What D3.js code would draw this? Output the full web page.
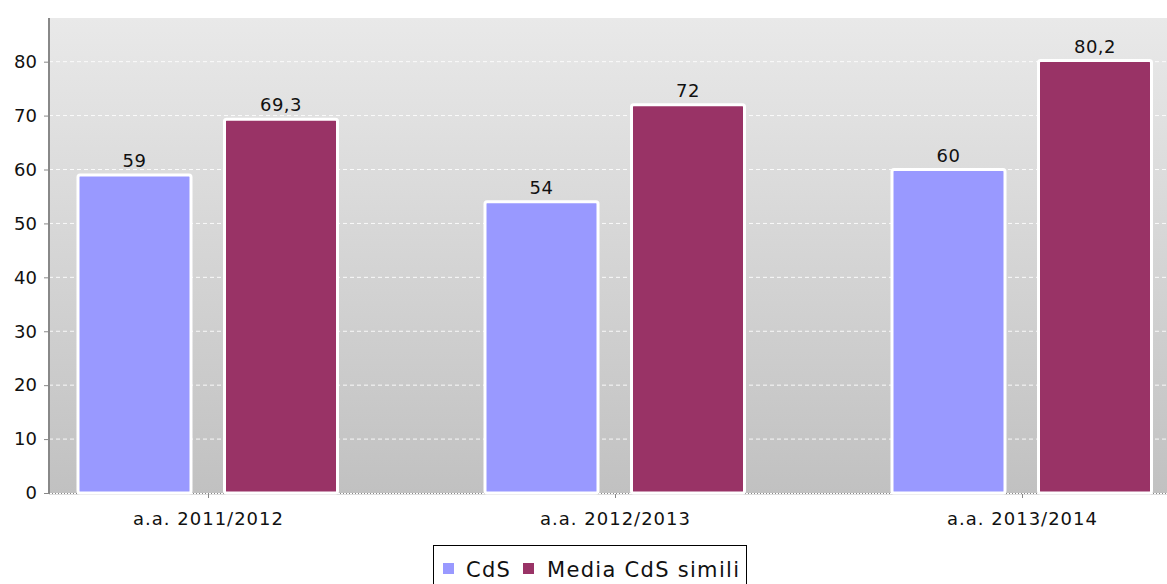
<!DOCTYPE html>
<html><head><meta charset="utf-8">
<script src="https://cdn.jsdelivr.net/npm/d3@7"></script>
<style>body{margin:0;background:#fff;font-family:"DejaVu Sans",sans-serif;}</style>
</head><body><svg id="c" width="1167" height="584"></svg>
<script>
const categories = ["a.a. 2011/2012", "a.a. 2012/2013", "a.a. 2013/2014"];
const seriesNames = ["CdS", "Media CdS simili"];
const cdsValues = [59, 54, 60];
const mediaValues = [69.3, 72, 80.2];
const yTicks = [0, 10, 20, 30, 40, 50, 60, 70, 80];
const colors = ["#9999ff", "#993366"];

const svg = d3.select("#c");
const pLeft = 49, pRight = 1167, pTop = 18, pBottom = 493;
const y = d3.scaleLinear().domain([0, 88.1]).range([pBottom, pTop]);
const x = d3.scalePoint().domain(categories).range([208, 1022]);
const fmt = v => String(v).replace(".", ",");

const defs = svg.append("defs");
const g = defs.append("linearGradient").attr("id","bg").attr("x1",0).attr("y1",0).attr("x2",0).attr("y2",1);
g.append("stop").attr("offset","0%").attr("stop-color","#e9e9e9");
g.append("stop").attr("offset","100%").attr("stop-color","#c1c1c1");

svg.append("rect").attr("x",pLeft).attr("y",pTop).attr("width",pRight-pLeft).attr("height",pBottom-pTop).attr("fill","url(#bg)");

// grid
svg.append("g").selectAll("line").data(yTicks.filter(d=>d>0)).join("line")
  .attr("x1",pLeft).attr("x2",pRight).attr("y1",d=>y(d)).attr("y2",d=>y(d))
  .attr("stroke","#fff").attr("stroke-width",1).attr("stroke-dasharray","4,3").attr("opacity",0.9);
svg.append("line").attr("x1",pLeft).attr("x2",pRight).attr("y1",pBottom+0.5).attr("y2",pBottom+0.5)
  .attr("stroke","#888").attr("stroke-dasharray","1,2");
svg.append("line").attr("x1",pLeft).attr("x2",pRight).attr("y1",pBottom+1.5).attr("y2",pBottom+1.5)
  .attr("stroke","#ddd");

// bars
const offsets = [-73.5, 73];
const bw = 113;
[cdsValues, mediaValues].forEach((vals, si) => {
  const gg = svg.append("g");
  gg.selectAll("rect").data(vals).join("rect")
    .attr("x",(d,i)=>x(categories[i])+offsets[si]-bw/2)
    .attr("y",d=>y(d))
    .attr("width",bw).attr("height",d=>pBottom-y(d))
    .attr("fill",colors[si]).attr("stroke","#fff").attr("stroke-width",3).attr("rx",2);
  gg.selectAll("text").data(vals).join("text")
    .attr("x",(d,i)=>x(categories[i])+offsets[si])
    .attr("y",d=>y(d)-8)
    .attr("text-anchor","middle").attr("font-size",18).attr("letter-spacing","0.5px").attr("fill","#111")
    .text(fmt);
});

// y axis
const ya = svg.append("g").attr("transform",`translate(${pLeft},0)`)
  .call(d3.axisLeft(y).tickValues(yTicks).tickSize(5).tickPadding(7));
ya.select(".domain").attr("stroke","#888").attr("stroke-width",2).attr("d",`M0,${pTop}V${pBottom}`);
ya.selectAll(".tick line").attr("stroke","#888");
ya.selectAll("text").attr("font-size",18).attr("font-family","DejaVu Sans").attr("fill","#111");

// x axis
const xa = svg.append("g").attr("transform",`translate(0,${pBottom+1})`)
  .call(d3.axisBottom(x).tickSize(4).tickPadding(14));
xa.select(".domain").remove();
xa.selectAll(".tick line").attr("stroke","#888");
xa.selectAll("text").attr("font-size",18).attr("letter-spacing","1px").attr("font-family","DejaVu Sans").attr("fill","#111");

// legend
const lg = svg.append("g");
lg.append("rect").attr("x",433.5).attr("y",545.5).attr("width",313).attr("height",45).attr("fill","#fff").attr("stroke","#000");
const items = [{x:443, tx:466}, {x:523, tx:547}];
seriesNames.forEach((n,i)=>{
  lg.append("rect").attr("x",items[i].x).attr("y",563).attr("width",11).attr("height",11).attr("fill",colors[i]);
  lg.append("text").attr("x",items[i].tx).attr("y",577).attr("font-size",21).attr("letter-spacing","1.3px").attr("fill","#111").text(n);
});
</script></body></html>
